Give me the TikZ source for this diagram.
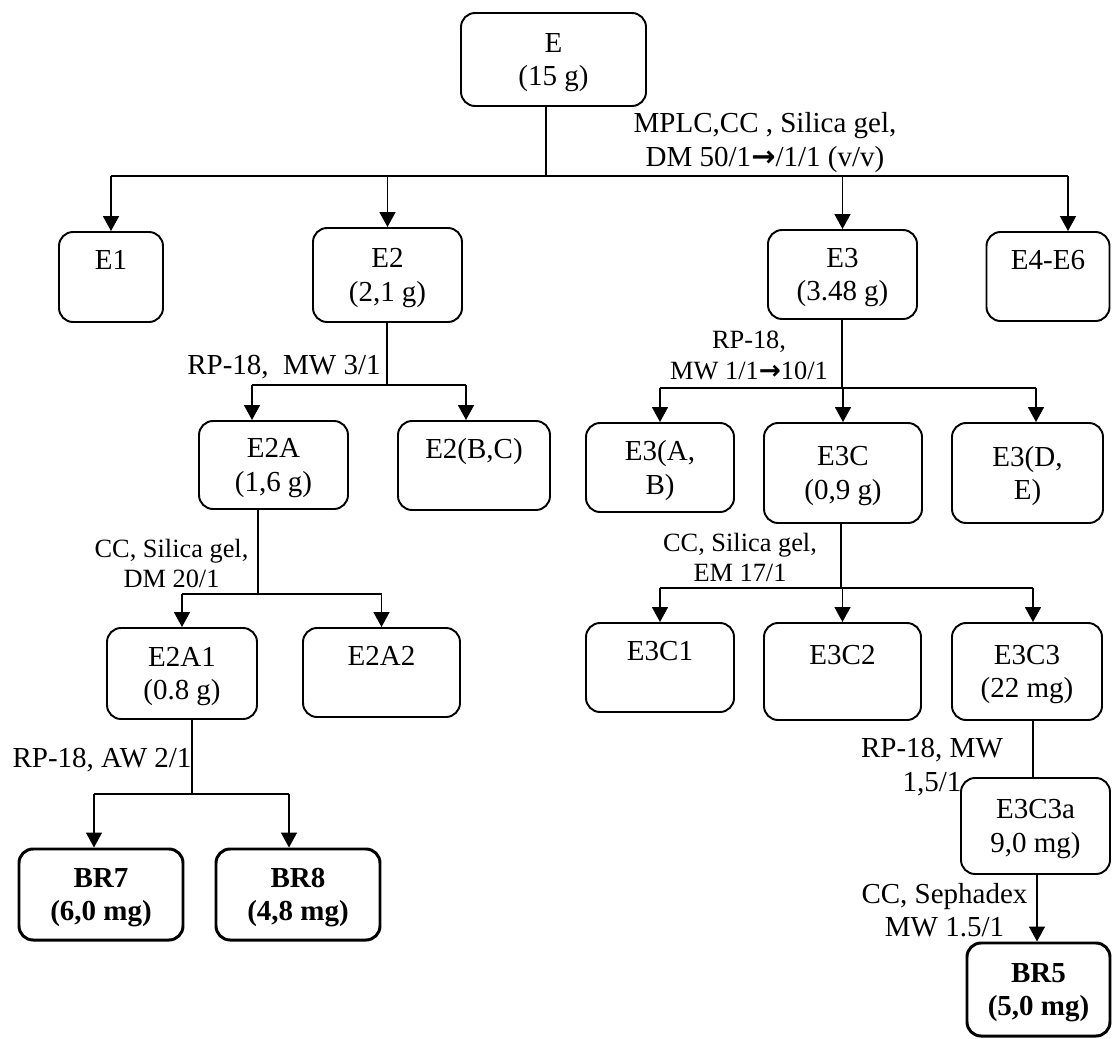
\documentclass[tikz,border=0pt]{standalone}
\usepackage{fontspec}
\setmainfont{Liberation Serif}
\newfontfamily\symbfont{DejaVu Sans}
\usetikzlibrary{arrows.meta,positioning,calc}
\newcommand{\bigfont}{\fontsize{16.5}{19}\selectfont}
\newcommand{\smallfont}{\fontsize{15}{17.6}\selectfont}
\newcommand{\gto}{{\symbfont\bfseries →}}
\tikzset{
  fbox/.style={draw, rounded corners=8pt, line width=1.1pt, align=center, inner sep=2pt,
               text depth=0pt},
  rbox/.style={fbox, line width=1.7pt, font=\bigfont\bfseries},
  link/.style={line width=1.1pt},
  arr/.style={link, -{Triangle[length=8.5pt,width=9pt]}},
  lbl/.style={align=center, inner sep=0pt},
  slbl/.style={lbl, font=\smallfont},
}

\begin{document}
\begin{tikzpicture}[every node/.style={font=\bigfont}]
  \useasboundingbox (0,0) rectangle (22.24,-20.78);

  % Fractions
  \node[fbox, minimum width=3.70cm, minimum height=1.86cm] (E) at (11.07,-1.19) {E\\(15 g)};
  \node[fbox, minimum width=2.08cm, minimum height=1.80cm] (E1) at (2.22,-5.54) {E1\\\strut};
  \node[fbox, minimum width=2.98cm, minimum height=1.88cm] (E2) at (7.75,-5.50) {E2\\(2,1 g)};
  \node[fbox, minimum width=2.98cm, minimum height=1.78cm] (E3) at (16.85,-5.49) {E3\\(3.48 g)};
  \node[fbox, minimum width=2.46cm, minimum height=1.78cm] (E4) at (20.96,-5.53) {E4-E6\\\strut};

  \node[fbox, minimum width=2.98cm, minimum height=1.76cm] (E2A) at (5.47,-9.30) {E2A\\(1,6 g)};
  \node[fbox, minimum width=3.04cm, minimum height=1.78cm] (E2BC) at (9.48,-9.31) {E2(B,C)\\\strut};
  \node[fbox, minimum width=2.96cm, minimum height=1.78cm] (E3AB) at (13.20,-9.35) {E3(A,\\B)};
  \node[fbox, minimum width=3.16cm, minimum height=2.00cm] (E3C) at (16.86,-9.46) {E3C\\(0,9 g)};
  \node[fbox, minimum width=3.02cm, minimum height=2.00cm] (E3DE) at (20.55,-9.46) {E3(D,\\E)};

  \node[fbox, minimum width=3.00cm, minimum height=1.82cm] (E2A1) at (3.64,-13.47) {E2A1\\(0.8 g)};
  \node[fbox, minimum width=3.14cm, minimum height=1.78cm] (E2A2) at (7.63,-13.45) {E2A2\\\strut};
  \node[fbox, minimum width=2.96cm, minimum height=1.78cm] (E3C1) at (13.20,-13.35) {E3C1\\\strut};
  \node[fbox, minimum width=3.14cm, minimum height=1.94cm] (E3C2) at (16.85,-13.43) {E3C2\\\strut};
  \node[fbox, minimum width=3.00cm, minimum height=1.94cm] (E3C3) at (20.54,-13.43) {E3C3\\(22 mg)};
  \node[fbox, minimum width=2.98cm, minimum height=1.92cm] (E3C3a) at (20.71,-16.52) {E3C3a\\9,0 mg)};

  % Pure compounds
  \node[rbox, minimum width=3.28cm, minimum height=1.82cm] (BR7) at (2.02,-17.89) {BR7\\(6,0 mg)};
  \node[rbox, minimum width=3.28cm, minimum height=1.82cm] (BR8) at (5.96,-17.89) {BR8\\(4,8 mg)};
  \node[rbox, minimum width=2.86cm, minimum height=1.86cm] (BR5) at (20.77,-19.79) {BR5\\(5,0 mg)};

  % Split points
  \coordinate (s0) at (10.92,-3.52);
  \coordinate (s2) at (7.74,-7.70);
  \coordinate (s3) at (16.84,-7.76);
  \coordinate (s2a) at (5.16,-11.88);
  \coordinate (s3c) at (16.82,-11.76);
  \coordinate (s2a1) at (3.84,-15.88);
  \coordinate (d3c3) at (20.66,0);
  \coordinate (d3c3a) at (20.74,0);

  % E -> E1..E6
  \draw[link] (E.south -| s0) -- (s0);
  \draw[link] (s0 -| E1.north) -- (s0 -| {$(E4.north)+(0.40,0)$});
  \foreach \n in {E1,E2,E3}
    \draw[arr] (s0 -| \n.north) -- (\n.north);
  \draw[arr] (s0 -| {$(E4.north)+(0.40,0)$}) -- ($(E4.north)+(0.40,0)$);
  \node[lbl] (l0) at (15.30,-2.85) {MPLC,CC , Silica gel,\\DM 50/1\gto/1/1 (v/v)};

  % E2 -> E2A, E2(B,C)
  \draw[link] (E2.south -| s2) -- (s2);
  \draw[link] (s2 -| {$(E2A.north)+(-0.43,0)$}) -- (s2 -| {$(E2BC.north)+(-0.16,0)$});
  \draw[arr] (s2 -| {$(E2A.north)+(-0.43,0)$}) -- ($(E2A.north)+(-0.43,0)$);
  \draw[arr] (s2 -| {$(E2BC.north)+(-0.16,0)$}) -- ($(E2BC.north)+(-0.16,0)$);
  \node[lbl] (l1) at (5.68,-7.34) {RP-18,~ MW 3/1};

  % E3 -> E3(A,B), E3C, E3(D,E)
  \draw[link] (E3.south -| s3) -- (s3);
  \draw[link] (s3 -| E3AB.north) -- (s3 -| {$(E3DE.north)+(0.17,0)$});
  \foreach \n in {E3AB,E3C}
    \draw[arr] (s3 -| \n.north) -- (\n.north);
  \draw[arr] (s3 -| {$(E3DE.north)+(0.17,0)$}) -- ($(E3DE.north)+(0.17,0)$);
  \node[slbl] (l2) at (14.98,-7.10) {RP-18,\\MW 1/1\gto10/1};

  % E2A -> E2A1, E2A2
  \draw[link] (E2A.south -| s2a) -- (s2a);
  \draw[link] (s2a -| E2A1.north) -- (s2a -| E2A2.north);
  \foreach \n in {E2A1,E2A2}
    \draw[arr] (s2a -| \n.north) -- (\n.north);
  \node[slbl] (l3) at (3.43,-11.27) {CC, Silica gel,\\DM 20/1};

  % E3C -> E3C1..E3C3
  \draw[link] (E3C.south -| s3c) -- (s3c);
  \draw[link] (s3c -| E3C1.north) -- (s3c -| {$(E3C3.north)+(0.12,0)$});
  \foreach \n in {E3C1,E3C2}
    \draw[arr] (s3c -| \n.north) -- (\n.north);
  \draw[arr] (s3c -| {$(E3C3.north)+(0.12,0)$}) -- ($(E3C3.north)+(0.12,0)$);
  \node[slbl] (l4) at (14.80,-11.15) {CC, Silica gel,\\EM 17/1};

  % E2A1 -> BR7, BR8
  \draw[link] (E2A1.south -| s2a1) -- (s2a1);
  \draw[link] (s2a1 -| {$(BR7.north)+(-0.14,0)$}) -- (s2a1 -| {$(BR8.north)+(-0.18,0)$});
  \draw[arr] (s2a1 -| {$(BR7.north)+(-0.14,0)$}) -- ($(BR7.north)+(-0.14,0)$);
  \draw[arr] (s2a1 -| {$(BR8.north)+(-0.18,0)$}) -- ($(BR8.north)+(-0.18,0)$);
  \node[lbl] (l5) at (2.04,-15.20) {RP-18, AW 2/1};

  % E3C3 -> E3C3a -> BR5
  \draw[link] (E3C3.south -| d3c3) -- (E3C3a.north -| d3c3);
  \node[lbl] (l6) at (18.64,-15.34) {RP-18, MW\\1,5/1};
  \draw[arr] (E3C3a.south -| d3c3a) -- (BR5.north -| d3c3a);
  \node[lbl] (l7) at (18.89,-18.20) {CC, Sephadex\\MW 1.5/1};
\end{tikzpicture}
\end{document}
